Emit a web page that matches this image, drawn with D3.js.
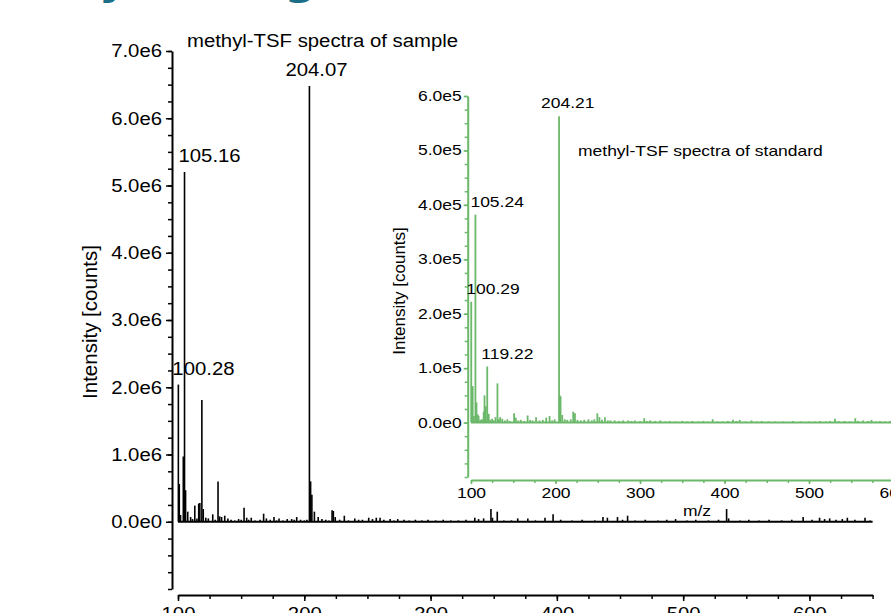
<!DOCTYPE html>
<html lang="en">
<head>
<meta charset="utf-8">
<title>methyl-TSF spectra</title>
<script src="https://d3js.org/d3.v7.min.js"></script>
<style>
  body { margin: 0; background: #fff; }
  svg { display: block; font-family: "Liberation Sans", Arial, sans-serif; }
</style>
</head>
<body>
<svg id="chart" width="891" height="613"></svg>
<script>
// sample spectrum: peak m/z and intensity (counts)
var sampleMz = [100.28, 101.0, 102.0, 104.2, 105.16, 106.0, 107.7, 110.0, 111.5, 113.3,
  115.0, 116.4, 117.3, 118.9, 120.0, 122.0, 124.0, 127.5, 129.5, 131.7,
  133.0, 134.5, 137.0, 139.5, 142.0, 145.0, 148.0, 150.0, 152.3, 154.4,
  156.0, 158.0, 161.0, 165.0, 167.8, 170.0, 173.0, 176.0, 178.0, 180.0,
  183.0, 186.5, 190.0, 192.0, 194.0, 197.0, 200.0, 202.0, 204.07, 205.0,
  206.0, 208.0, 211.0, 214.0, 217.0, 219.5, 222.0, 223.0, 224.5, 228.0,
  231.7, 235.0, 240.0, 243.0, 246.0, 251.0, 254.0, 257.0, 260.0, 263.0,
  268.0, 271.0, 274.0, 279.0, 283.0, 288.0, 293.0, 298.0, 304.0, 310.0,
  316.0, 322.0, 328.0, 335.0, 338.0, 342.0, 347.8, 349.0, 352.8, 358.0,
  364.0, 369.0, 377.0, 383.0, 390.6, 397.0, 403.0, 412.0, 420.0, 430.0,
  436.5, 440.0, 448.0, 452.0, 456.0, 462.0, 470.0, 480.0, 487.0, 494.0,
  503.0, 510.0, 520.0, 528.0, 534.4, 536.0, 545.0, 552.0, 560.0, 568.0,
  578.0, 586.0, 595.0, 602.0, 608.0, 612.0, 616.0, 621.0, 626.0, 630.0,
  636.0, 644.0, 648.0];
var sampleCounts = [2.04e6, 0.56e6, 0.10e6, 0.97e6, 5.20e6, 0.47e6, 0.15e6, 0.07e6, 0.04e6, 0.24e6,
  0.05e6, 0.27e6, 0.28e6, 1.81e6, 0.19e6, 0.06e6, 0.05e6, 0.11e6, 0.03e6, 0.60e6,
  0.08e6, 0.07e6, 0.09e6, 0.05e6, 0.03e6, 0.02e6, 0.04e6, 0.03e6, 0.21e6, 0.06e6,
  0.03e6, 0.06e6, 0.02e6, 0.03e6, 0.12e6, 0.05e6, 0.03e6, 0.07e6, 0.02e6, 0.05e6,
  0.02e6, 0.04e6, 0.04e6, 0.03e6, 0.07e6, 0.03e6, 0.02e6, 0.03e6, 6.48e6, 0.60e6,
  0.40e6, 0.15e6, 0.07e6, 0.04e6, 0.03e6, 0.02e6, 0.17e6, 0.16e6, 0.07e6, 0.03e6,
  0.09e6, 0.02e6, 0.05e6, 0.03e6, 0.03e6, 0.06e6, 0.04e6, 0.06e6, 0.06e6, 0.03e6,
  0.04e6, 0.02e6, 0.04e6, 0.03e6, 0.02e6, 0.03e6, 0.02e6, 0.03e6, 0.02e6, 0.03e6,
  0.02e6, 0.02e6, 0.03e6, 0.06e6, 0.04e6, 0.05e6, 0.19e6, 0.06e6, 0.15e6, 0.02e6,
  0.02e6, 0.05e6, 0.05e6, 0.02e6, 0.06e6, 0.11e6, 0.03e6, 0.02e6, 0.03e6, 0.02e6,
  0.07e6, 0.06e6, 0.07e6, 0.03e6, 0.09e6, 0.02e6, 0.03e6, 0.02e6, 0.03e6, 0.04e6,
  0.02e6, 0.03e6, 0.02e6, 0.03e6, 0.19e6, 0.05e6, 0.02e6, 0.03e6, 0.02e6, 0.03e6,
  0.02e6, 0.03e6, 0.07e6, 0.03e6, 0.06e6, 0.04e6, 0.05e6, 0.03e6, 0.04e6, 0.06e6,
  0.03e6, 0.06e6, 0.02e6];
var sampleLabels = [100.28, 105.16, 204.07];

// standard spectrum (inset)
var standardMz = [100.29, 101.2, 102.0, 103.5, 105.24, 106.5, 108.0, 109.0, 111.0, 113.0,
  115.0, 116.0, 117.5, 119.22, 121.0, 123.0, 125.0, 127.0, 129.0, 131.3,
  133.0, 134.5, 137.0, 140.0, 143.0, 146.0, 151.0, 153.0, 156.0, 159.0,
  163.0, 167.0, 170.0, 173.0, 177.0, 181.0, 185.0, 189.0, 193.0, 196.0,
  199.0, 204.21, 205.0, 206.0, 208.0, 211.0, 214.0, 218.0, 221.0, 223.0,
  226.0, 230.0, 234.0, 239.0, 243.0, 246.0, 249.5, 252.0, 255.0, 258.6,
  262.0, 265.0, 270.0, 275.0, 280.0, 286.0, 290.0, 294.0, 300.0, 305.0,
  308.0, 312.0, 318.0, 324.0, 330.0, 335.0, 342.0, 350.0, 356.0, 362.0,
  369.0, 375.0, 380.0, 386.0, 392.0, 398.0, 404.0, 410.0, 414.0, 418.0,
  425.0, 432.0, 438.0, 444.0, 452.0, 460.0, 470.0, 481.0, 490.0, 500.0,
  507.0, 513.0, 520.0, 525.0, 530.8, 535.0, 542.0, 548.0, 554.8, 558.0,
  564.0, 570.0, 574.0, 579.0, 584.0, 590.0, 596.0, 602.0];
var standardCounts = [2.22e5, 0.30e5, 0.67e5, 0.12e5, 3.82e5, 0.37e5, 0.15e5, 0.12e5, 0.05e5, 0.06e5,
  0.20e5, 0.50e5, 0.30e5, 1.03e5, 0.16e5, 0.05e5, 0.07e5, 0.04e5, 0.10e5, 0.72e5,
  0.06e5, 0.10e5, 0.07e5, 0.04e5, 0.06e5, 0.03e5, 0.17e5, 0.09e5, 0.04e5, 0.05e5,
  0.03e5, 0.13e5, 0.05e5, 0.04e5, 0.10e5, 0.04e5, 0.05e5, 0.09e5, 0.12e5, 0.04e5,
  0.06e5, 5.63e5, 0.50e5, 0.48e5, 0.14e5, 0.06e5, 0.05e5, 0.06e5, 0.20e5, 0.17e5,
  0.05e5, 0.04e5, 0.05e5, 0.06e5, 0.04e5, 0.06e5, 0.17e5, 0.10e5, 0.05e5, 0.10e5,
  0.04e5, 0.04e5, 0.04e5, 0.03e5, 0.04e5, 0.04e5, 0.03e5, 0.04e5, 0.03e5, 0.08e5,
  0.03e5, 0.04e5, 0.03e5, 0.04e5, 0.02e5, 0.03e5, 0.02e5, 0.03e5, 0.02e5, 0.03e5,
  0.02e5, 0.03e5, 0.02e5, 0.06e5, 0.02e5, 0.02e5, 0.03e5, 0.05e5, 0.03e5, 0.05e5,
  0.02e5, 0.04e5, 0.02e5, 0.03e5, 0.02e5, 0.02e5, 0.02e5, 0.03e5, 0.02e5, 0.02e5,
  0.02e5, 0.03e5, 0.02e5, 0.03e5, 0.07e5, 0.03e5, 0.03e5, 0.02e5, 0.08e5, 0.03e5,
  0.04e5, 0.03e5, 0.05e5, 0.02e5, 0.03e5, 0.02e5, 0.03e5, 0.02e5];
var standardLabels = [100.29, 105.24, 119.22, 204.21];

var mzTicks = [100, 200, 300, 400, 500, 600];
var sampleTicks = [0, 1e6, 2e6, 3e6, 4e6, 5e6, 6e6, 7e6];
var standardTicks = [0, 1e5, 2e5, 3e5, 4e5, 5e5, 6e5];

var green = "#6cb86a";
var svg = d3.select("#chart");
var sci = function(v) { return d3.format(".1e")(v).replace("e+", "e"); };
var f2 = d3.format(".2f");

// cut-off slide heading at the top, only the descenders show
svg.append("text")
  .attr("x", -75).attr("y", -7)
  .style("font-family", "'DejaVu Sans', sans-serif")
  .style("font-weight", "bold")
  .style("font-size", "46px")
  .attr("fill", "#1a6e85")
  .text("Identity test (gram)");

function styleTicks(g, color, size, sx, dx) {
  g.select(".domain").attr("stroke", color).attr("stroke-width", 2);
  g.selectAll(".tick line").attr("stroke", color).attr("stroke-width", 1.5);
  var t = g.selectAll(".tick text").attr("fill", "#000").style("font-size", size + "px")
    .attr("font-family", null);
  if (dx !== undefined) t.attr("x", dx / sx);
  t.attr("transform", "scale(" + sx + ",1)");
}

// ---------- main spectrum ----------
var x = d3.scaleLinear().domain([100, 650]).range([178, 872.6]);
var y = d3.scaleLinear().domain([-1e6, 7e6]).range([589, 51]);

var gyMinor = svg.append("g").attr("transform", "translate(172,0)")
  .call(d3.axisLeft(y).tickValues(d3.range(-1e6, 7e6 + 1, 0.25e6)).tickSize(4).tickSizeOuter(0).tickFormat(""));
styleTicks(gyMinor, "#000", 18, 1);
var gy = svg.append("g").attr("transform", "translate(172,0)")
  .call(d3.axisLeft(y).tickValues(sampleTicks).tickSize(6).tickSizeOuter(0).tickFormat(sci));
gy.select(".domain").remove();
styleTicks(gy, "#000", 18, 1.13, -10);

var gxMinor = svg.append("g").attr("transform", "translate(0,595)")
  .call(d3.axisBottom(x).tickValues(d3.range(100, 651, 25)).tickSize(4).tickSizeOuter(0).tickFormat(""));
styleTicks(gxMinor, "#000", 18, 1);
var gx = svg.append("g").attr("transform", "translate(0,595)")
  .call(d3.axisBottom(x).tickValues(mzTicks).tickSize(6).tickPadding(6).tickSizeOuter(0));
gx.select(".domain").remove();
styleTicks(gx, "#000", 18, 1.13);

svg.append("line")
  .attr("x1", x(100)).attr("x2", x(650)).attr("y1", y(0)).attr("y2", y(0))
  .attr("stroke", "#000").attr("stroke-width", 2);

svg.append("g").selectAll("line")
  .data(d3.range(sampleMz.length))
  .enter().append("line")
  .attr("x1", function(i) { return x(sampleMz[i]); })
  .attr("x2", function(i) { return x(sampleMz[i]); })
  .attr("y1", y(0))
  .attr("y2", function(i) { return y(sampleCounts[i]); })
  .attr("stroke", "#000").attr("stroke-width", 1.6);

var sampleDx = { "100.28": -6, "105.16": -6, "204.07": -24 };
sampleLabels.forEach(function(mz) {
  var v = sampleCounts[sampleMz.indexOf(mz)];
  svg.append("text")
    .attr("transform", "translate(" + (x(mz) + sampleDx[mz]) + "," + (y(v) - 10) + ") scale(1.13,1)")
    .style("font-size", "18px")
    .text(f2(mz));
});

svg.append("text")
  .attr("transform", "translate(187,47) scale(1.13,1)")
  .style("font-size", "18px")
  .text("methyl-TSF spectra of sample");

svg.append("text")
  .attr("transform", "translate(97,322) rotate(-90)")
  .attr("text-anchor", "middle")
  .style("font-size", "20.5px")
  .text("Intensity [counts]");

// ---------- inset: standard spectrum ----------
var xi = d3.scaleLinear().domain([100, 650]).range([471, 935.75]);
var yi = d3.scaleLinear().domain([-1e5, 6e5]).range([477, 96]);

var iyMinor = svg.append("g").attr("transform", "translate(467.7,0)")
  .call(d3.axisLeft(yi).tickValues(d3.range(-1e5, 6e5 + 1, 0.25e5)).tickSize(3).tickSizeOuter(0).tickFormat(""));
styleTicks(iyMinor, green, 14, 1);
var iy = svg.append("g").attr("transform", "translate(467.7,0)")
  .call(d3.axisLeft(yi).tickValues(standardTicks).tickSize(4).tickSizeOuter(0).tickFormat(sci));
iy.select(".domain").remove();
styleTicks(iy, green, 14, 1.25, -6);

var ixMinor = svg.append("g").attr("transform", "translate(0,480)")
  .call(d3.axisBottom(xi).tickValues(d3.range(100, 651, 25)).tickSize(3).tickSizeOuter(0).tickFormat(""));
styleTicks(ixMinor, green, 14, 1);
var ix = svg.append("g").attr("transform", "translate(0,480)")
  .call(d3.axisBottom(xi).tickValues(mzTicks).tickSize(4).tickPadding(4).tickSizeOuter(0));
ix.select(".domain").remove();
styleTicks(ix, green, 14, 1.25);

svg.append("line")
  .attr("x1", xi(100)).attr("x2", xi(650)).attr("y1", yi(0)).attr("y2", yi(0))
  .attr("stroke", green).attr("stroke-width", 2);

svg.append("g").selectAll("line")
  .data(d3.range(standardMz.length))
  .enter().append("line")
  .attr("x1", function(i) { return xi(standardMz[i]); })
  .attr("x2", function(i) { return xi(standardMz[i]); })
  .attr("y1", yi(0))
  .attr("y2", function(i) { return yi(standardCounts[i]); })
  .attr("stroke", green).attr("stroke-width", 1.8);

var standardDx = { "100.29": -5, "105.24": -5, "119.22": -6, "204.21": -18 };
standardLabels.forEach(function(mz) {
  var v = standardCounts[standardMz.indexOf(mz)];
  svg.append("text")
    .attr("transform", "translate(" + (xi(mz) + standardDx[mz]) + "," + (yi(v) - 8) + ") scale(1.25,1)")
    .style("font-size", "14px")
    .text(f2(mz));
});

svg.append("text")
  .attr("transform", "translate(578,156) scale(1.25,1)")
  .style("font-size", "14px")
  .text("methyl-TSF spectra of standard");

svg.append("text")
  .attr("transform", "translate(697,516) scale(1.25,1)")
  .attr("text-anchor", "middle")
  .style("font-size", "14px")
  .text("m/z");

svg.append("text")
  .attr("transform", "translate(405,291) rotate(-90)")
  .attr("text-anchor", "middle")
  .style("font-size", "17px")
  .text("Intensity [counts]");
</script>
</body>
</html>
